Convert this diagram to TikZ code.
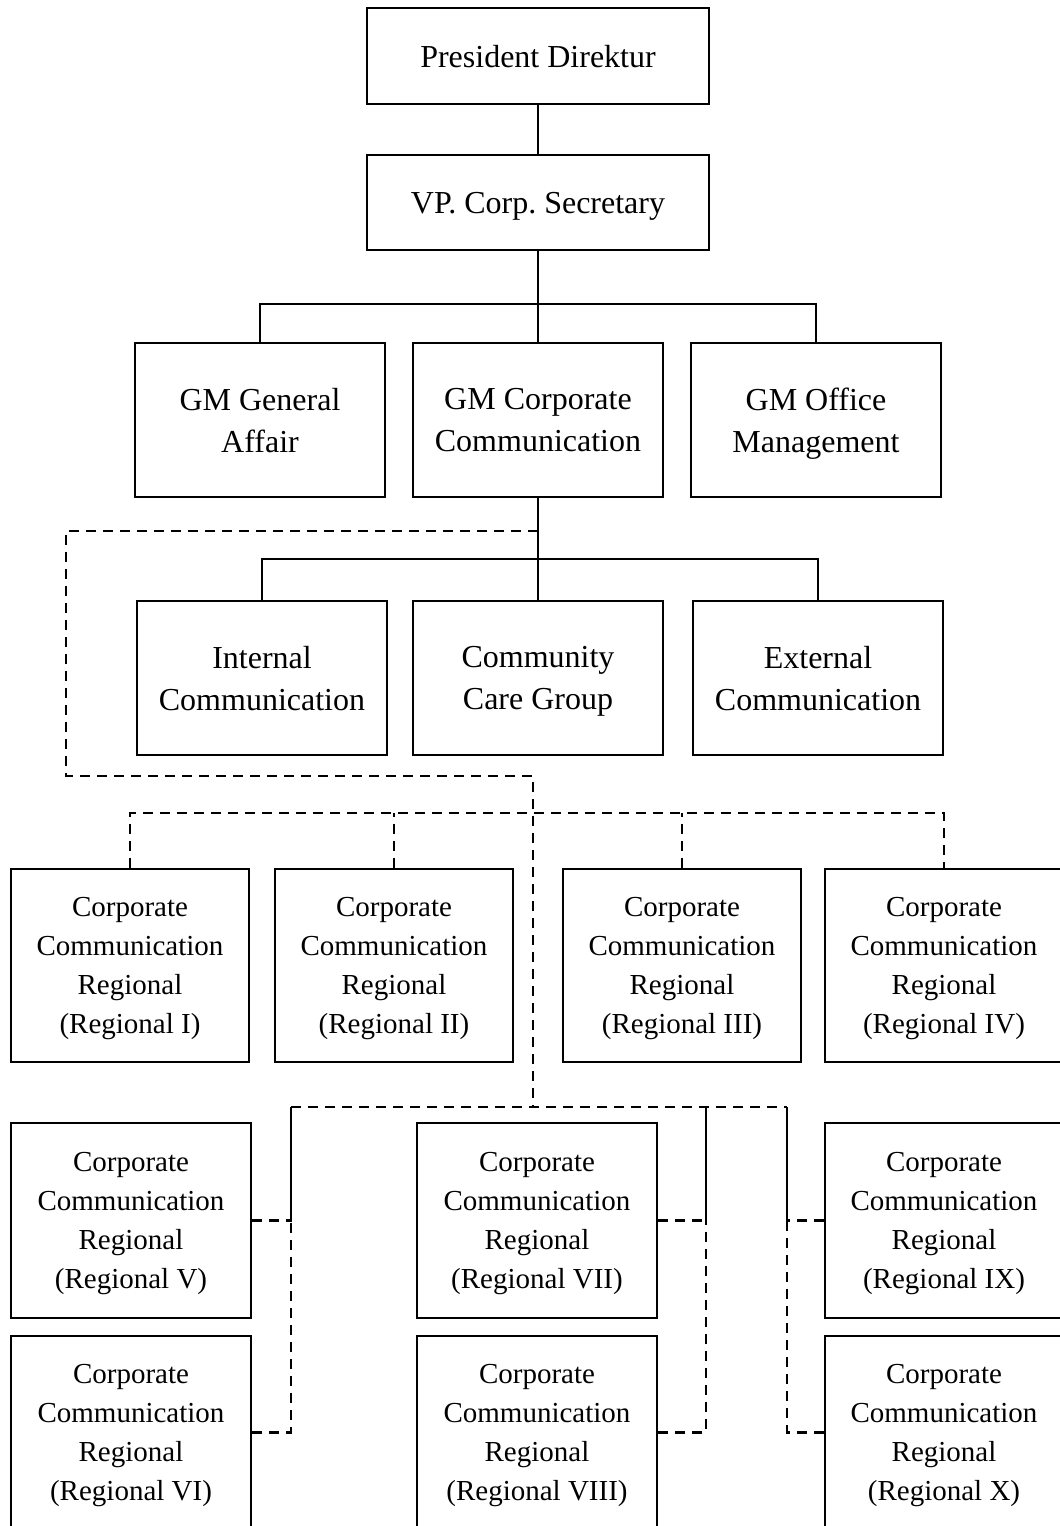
\documentclass[tikz,border=0pt]{standalone}
\usepackage{fontspec}
\setmainfont{Liberation Serif}
\frenchspacing
\begin{document}
\begin{tikzpicture}[x=1pt,y=-1pt,
  bigbox/.style={draw,line width=2.8pt,rectangle,inner sep=0pt,align=center,
    minimum width=250pt,minimum height=154pt,font=\fontsize{32}{42}\selectfont,
    text depth=0pt},
  topbox/.style={draw,line width=2.8pt,rectangle,inner sep=0pt,align=center,
    minimum width=342pt,minimum height=96pt,font=\fontsize{32}{42}\selectfont,
    text height=22pt,text depth=0pt},
  regbox/.style={draw,line width=2.8pt,rectangle,inner sep=0pt,align=center,
    minimum width=238pt,minimum height=193pt,font=\fontsize{29}{39}\selectfont,
    text depth=0pt},
  solidline/.style={line width=2.4pt},
  dashline/.style={line width=2.6pt,dash pattern=on 10pt off 7pt}]
\useasboundingbox (0,0) rectangle (1060,1526);
\fill[white] (0,0) rectangle (1060,1526);

% top levels
\node[topbox] (pd) at (538,56) {President Direktur};
\node[topbox,minimum height=95pt] (vp) at (538,202.5) {VP. Corp. Secretary};
\node[bigbox] (ga) at (260,420) {GM General\\Affair};
\node[bigbox] (gmc) at (538,420) {GM Corporate\\Communication};
\node[bigbox] (gmo) at (816,420) {GM Office\\Management};
\node[bigbox] (ic) at (262,678) {Internal\\Communication};
\node[bigbox] (cc) at (538,678) {Community\\Care Group};
\node[bigbox] (ec) at (818,678) {External\\Communication};

% regional row 1
\node[regbox] (r1) at (130,965.5) {Corporate\\Communication\\Regional\\(Regional I)};
\node[regbox] (r2) at (394,965.5) {Corporate\\Communication\\Regional\\(Regional II)};
\node[regbox] (r3) at (682,965.5) {Corporate\\Communication\\Regional\\(Regional III)};
\node[regbox] (r4) at (944,965.5) {Corporate\\Communication\\Regional\\(Regional IV)};

% regional rows 2 and 3
\node[regbox,minimum width=240pt,minimum height=195pt] (r5) at (131,1220.5) {Corporate\\Communication\\Regional\\(Regional V)};
\node[regbox,minimum width=240pt] (r6) at (131,1432.5) {Corporate\\Communication\\Regional\\(Regional VI)};
\node[regbox,minimum width=240pt,minimum height=195pt] (r7) at (537,1220.5) {Corporate\\Communication\\Regional\\(Regional VII)};
\node[regbox,minimum width=240pt] (r8) at (537,1432.5) {Corporate\\Communication\\Regional\\(Regional VIII)};
\node[regbox,minimum height=195pt] (r9) at (944,1220.5) {Corporate\\Communication\\Regional\\(Regional IX)};
\node[regbox] (r10) at (944,1432.5) {Corporate\\Communication\\Regional\\(Regional X)};

% coordinates
\coordinate (bus1) at (538,304);
\coordinate (bus2) at (538,559);
\coordinate (d0) at (538,531);
\coordinate (dl) at (66,776);
\coordinate (dm) at (533,776);
\coordinate (bus3) at (533,813);
\coordinate (dj) at (533,1107);
\coordinate (va) at (291,1107);
\coordinate (vb) at (706,1107);
\coordinate (vc) at (787,1107);

% solid connectors
\draw[solidline] (pd.south) -- (vp.north);
\draw[solidline] (vp.south) -- (gmc.north);
\draw[solidline] (ga.north) |- (bus1) -| (gmo.north);
\draw[solidline] (gmc.south) -- (cc.north);
\draw[solidline] (ic.north) |- (bus2) -| (ec.north);

% dashed connectors
\draw[dashline] (d0) -| (dl) -- (dm) -- (dj);
\draw[dashline] (r1.north) |- (bus3) -| (r4.north);
\draw[dashline] (r2.north) -- (r2.north |- bus3);
\draw[dashline] (r3.north) -- (r3.north |- bus3);
\draw[dashline] (va) -- (vc);
\draw[dashline] (r5.east) -| (va);
\draw[dashline] (r6.east) -| (va);
\draw[dashline] (r7.east) -| (vb);
\draw[dashline] (r8.east) -| (vb);
\draw[dashline] (r9.west) -| (vc);
\draw[dashline] (r10.west) -| (vc);
\end{tikzpicture}
\end{document}
